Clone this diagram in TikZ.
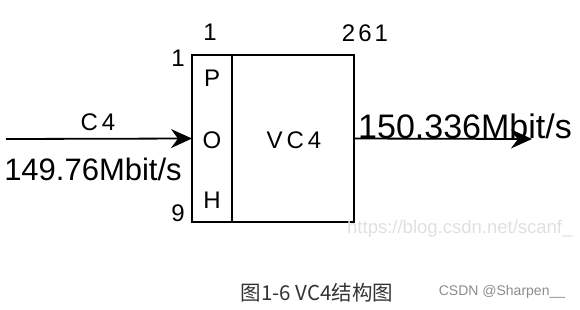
\documentclass[tikz,border=0pt]{standalone}
\usepackage{fontspec}
\setmainfont{Liberation Sans}
\newfontfamily\cjk{Noto Sans CJK SC}
\usetikzlibrary{positioning,arrows.meta}

\begin{document}
\begin{tikzpicture}
	[x=1pt,y=-1pt,
	 box/.style={draw, line width=1.8pt, inner sep=0pt, outer sep=0pt},
	 flow/.style={-{Stealth[length=21pt,width=19pt,inset=7pt]}, line width=1.8pt},
	 lbl/.style={inner sep=0pt, font=\fontsize{24}{26}\selectfont},
	 rate/.style={inner sep=0pt, font=\fontsize{31}{33}\selectfont}]
	\useasboundingbox (0,0) rectangle (580,309);
	\node (poh) [box, minimum width=40pt, minimum height=167pt] at (212,138.5) {};
	\node (vc4) [box, right=0pt of poh, minimum width=122pt, minimum height=167pt] {};
	\coordinate (src) at (6,139);
	\coordinate (dst) at (532,139);
	
	\draw[flow] (src) -- (poh.west);
	\draw[flow] (vc4.east) -- (dst);
	
	% row and column numbers
	\node (colA) [lbl] at (210,32) {1};
	\node (colB) [lbl] at (365,33) {2\hspace{3pt}6\hspace{3pt}1};
	\node (rowA) [lbl] at (178,58) {1};
	\node (rowB) [lbl] at (178,213) {9};
	
	\node (p) [lbl] at (212,78) {P};
	\node (o) [lbl] at (212,140) {O};
	\node (h) [lbl] at (212,200) {H};
	\node (name) [lbl] at (294,140) {V\hspace{4pt}C\hspace{4pt}4};
	
	\node (cfour) [lbl] at (98,122) {C\hspace{4pt}4};
	\node (inrate) [rate] at (93,169) {149.76Mbit/s};
	\node (outrate) [rate, font=\fontsize{34}{36}\selectfont] at (465,126) {150.336Mbit/s};
	
	\node (mark) [inner sep=0pt, anchor=west, text=black!12, font=\fontsize{18.5}{20}\selectfont] at (347,229) {https://blog.csdn.net/scanf\_};
	\node (caption) [inner sep=0pt, text=black!80, font=\cjk\fontsize{20.5}{22}\selectfont] at (317,293) {图1-6 VC4结构图};
	\node (csdn) [inner sep=0pt, text=black!45, font=\fontsize{14}{16}\selectfont] at (502,292) {CSDN @Sharpen\_\_};
\end{tikzpicture}
\end{document}
